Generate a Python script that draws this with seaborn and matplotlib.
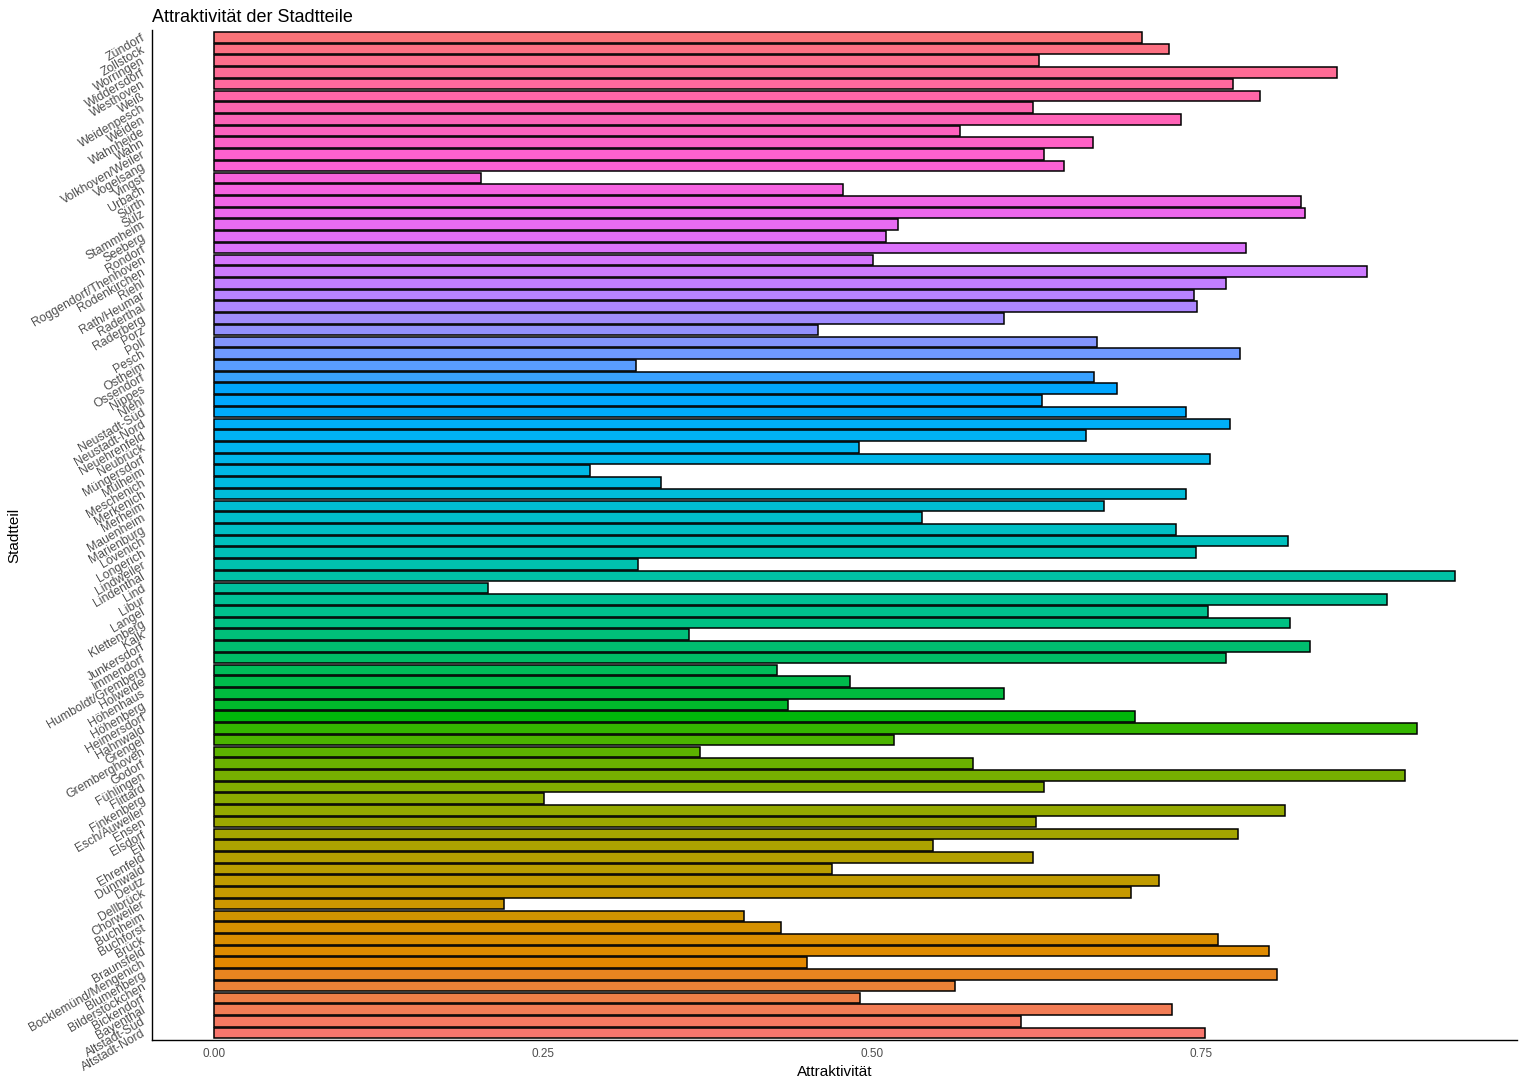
import numpy as np
import pandas as pd
import seaborn as sns
import matplotlib
matplotlib.use("Agg")
import matplotlib.pyplot as plt

# districts, top of chart to bottom
stadtteile = [
    "Zündorf", "Zollstock", "Worringen", "Widdersdorf", "Westhoven", "Weiß",
    "Weidenpesch", "Weiden", "Wahnheide", "Wahn", "Volkhoven/Weiler", "Vogelsang",
    "Vingst", "Urbach", "Sürth", "Sülz", "Stammheim", "Seeberg", "Rondorf",
    "Roggendorf/Thenhoven", "Rodenkirchen", "Riehl", "Rath/Heumar", "Raderthal",
    "Raderberg", "Porz", "Poll", "Pesch", "Ostheim", "Ossendorf", "Nippes", "Niehl",
    "Neustadt-Süd", "Neustadt-Nord", "Neuehrenfeld", "Neubrück", "Müngersdorf",
    "Mülheim", "Meschenich", "Merkenich", "Merheim", "Mauenheim", "Marienburg",
    "Lövenich", "Longerich", "Lindweiler", "Lindenthal", "Lind", "Libur", "Langel",
    "Klettenberg", "Kalk", "Junkersdorf", "Immendorf", "Humboldt/Gremberg",
    "Holweide", "Höhenhaus", "Höhenberg", "Heimersdorf", "Hahnwald", "Grengel",
    "Gremberghoven", "Godorf", "Fühlingen", "Flittard", "Finkenberg",
    "Esch/Auweiler", "Ensen", "Elsdorf", "Eil", "Ehrenfeld", "Dünnwald", "Deutz",
    "Dellbrück", "Chorweiler", "Buchheim", "Buchforst", "Brück", "Braunsfeld",
    "Bocklemünd/Mengenich", "Blumenberg", "Bilderstöckchen", "Bickendorf",
    "Bayenthal", "Altstadt-Süd", "Altstadt-Nord",
]

attraktivitaet = [
    0.705, 0.726, 0.627, 0.853, 0.774, 0.795,
    0.622, 0.735, 0.567, 0.668, 0.631, 0.646,
    0.203, 0.478, 0.826, 0.829, 0.520, 0.511, 0.784,
    0.501, 0.876, 0.769, 0.745, 0.747,
    0.600, 0.459, 0.671, 0.780, 0.321, 0.669, 0.686, 0.629,
    0.739, 0.772, 0.663, 0.490, 0.757,
    0.286, 0.340, 0.739, 0.676, 0.538, 0.731,
    0.816, 0.746, 0.322, 0.943, 0.208, 0.891, 0.755,
    0.818, 0.361, 0.833, 0.769, 0.428,
    0.483, 0.600, 0.436, 0.700, 0.914, 0.517,
    0.369, 0.577, 0.905, 0.631, 0.251,
    0.814, 0.625, 0.778, 0.546, 0.622, 0.470, 0.718,
    0.697, 0.220, 0.403, 0.431, 0.763, 0.802,
    0.451, 0.808, 0.563, 0.491,
    0.728, 0.613, 0.753,
]

x_ticks = [0.0, 0.25, 0.5, 0.75]
x_ticklabels = ["0.00", "0.25", "0.50", "0.75"]


def hcl_hex(h, c=100.0, l=65.0):
    # polar Luv -> sRGB, like R's hcl()
    hr = np.deg2rad(h)
    u = c * np.cos(hr)
    v = c * np.sin(hr)
    xn, yn, zn = 95.047, 100.0, 108.883
    un = 4 * xn / (xn + 15 * yn + 3 * zn)
    vn = 9 * yn / (xn + 15 * yn + 3 * zn)
    y = yn * ((l + 16) / 116) ** 3
    up = u / (13 * l) + un
    vp = v / (13 * l) + vn
    x = 9 * y * up / (4 * vp)
    z = 3 * y / vp - x / 3 - 5 * y
    x, y, z = x / 100, y / 100, z / 100
    rgb = [3.240479 * x - 1.537150 * y - 0.498535 * z,
           -0.969256 * x + 1.875992 * y + 0.041556 * z,
           0.055648 * x - 0.204043 * y + 1.057311 * z]
    out = []
    for t in rgb:
        t = 12.92 * t if t <= 0.0031308 else 1.055 * t ** (1 / 2.4) - 0.055
        out.append(min(max(t, 0), 1))
    return matplotlib.colors.to_hex(out)


n = len(stadtteile)
# ggplot hue scale: first level (alphabetical, bottom of chart) gets hue 15
hues = [15 + 360 * i / n for i in range(n)]
palette = {name: hcl_hex(hues[n - 1 - k]) for k, name in enumerate(stadtteile)}

df = pd.DataFrame({"Stadtteil": stadtteile, "Attraktivität": attraktivitaet})

sns.set_theme(style="white")
plt.rcParams["font.family"] = ["Liberation Sans", "DejaVu Sans"]

fig, ax = plt.subplots(figsize=(15.24, 10.8), dpi=100)
fig.subplots_adjust(left=0.0997, right=0.9954, top=0.972, bottom=0.037)

sns.barplot(data=df, x="Attraktivität", y="Stadtteil", hue="Stadtteil",
            order=stadtteile, palette=palette, saturation=1, width=0.9,
            edgecolor="black", linewidth=1.1, legend=False, ax=ax)

xmax = max(attraktivitaet)
ax.set_xlim(-0.05 * xmax, 1.05 * xmax)
ax.set_ylim(n - 1 + 0.6, -0.6)
ax.set_xticks(x_ticks)
ax.set_xticklabels(x_ticklabels, fontsize=8.5, color="#4D4D4D")
ax.set_yticks(range(n))
ax.set_yticklabels(stadtteile, fontsize=8.8, color="#4D4D4D", rotation=30,
                   ha="right", va="center", rotation_mode="anchor")

for s in ["top", "right"]:
    ax.spines[s].set_visible(False)
for s in ["left", "bottom"]:
    ax.spines[s].set_color("black")
    ax.spines[s].set_linewidth(1.0)
ax.tick_params(axis="both", length=3.5, width=0.9, color="#333333", pad=2)
ax.grid(False)

ax.set_xlabel("Attraktivität", fontsize=11, labelpad=4, color="black")
ax.set_ylabel("Stadtteil", fontsize=11, labelpad=4, color="black")
ax.set_title("Attraktivität der Stadtteile", loc="left", fontsize=13, pad=6,
             color="black")

fig.savefig("out.png", dpi=100)
